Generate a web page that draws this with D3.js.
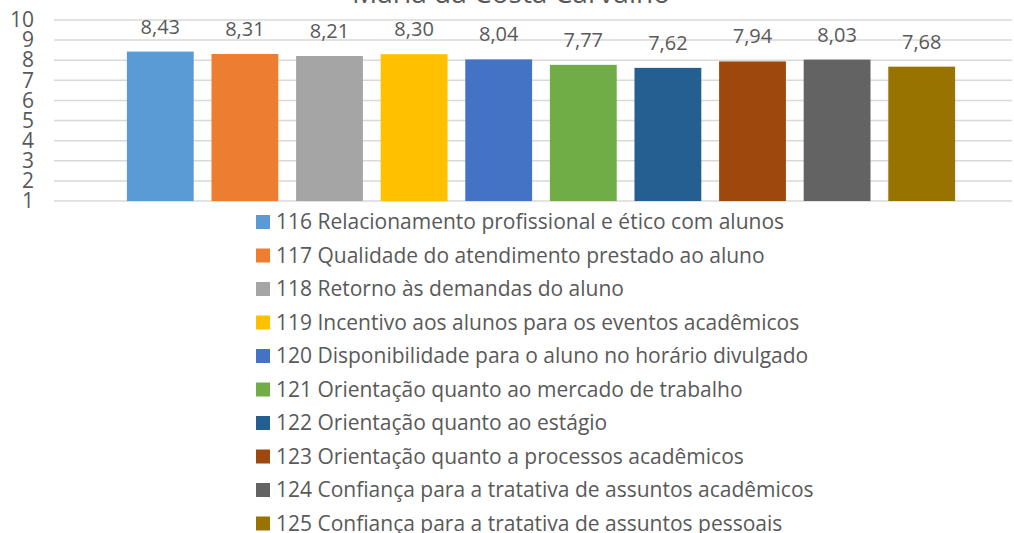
<!DOCTYPE html>
<html>
<head>
<meta charset="utf-8">
<script src="https://cdn.jsdelivr.net/npm/d3@7"></script>
<style>
  body { margin: 0; background: #fff; }
  text { font-family: "Open Sans", Lato, sans-serif; fill: #595959; }
</style>
</head>
<body>
<svg id="chart"></svg>
<script>
// data
const codes = ['116', '117', '118', '119', '120', '121', '122', '123', '124', '125'];
const labels = [
  'Relacionamento profissional e ético com alunos',
  'Qualidade do atendimento prestado ao aluno',
  'Retorno às demandas do aluno',
  'Incentivo aos alunos para os eventos acadêmicos',
  'Disponibilidade para o aluno no horário divulgado',
  'Orientação quanto ao mercado de trabalho',
  'Orientação quanto ao estágio',
  'Orientação quanto a processos acadêmicos',
  'Confiança para a tratativa de assuntos acadêmicos',
  'Confiança para a tratativa de assuntos pessoais'
];
const values = [8.43, 8.31, 8.21, 8.30, 8.04, 7.77, 7.62, 7.94, 8.03, 7.68];
const colors = ['#5B9BD5', '#ED7D31', '#A5A5A5', '#FFC000', '#4472C4',
                '#70AD47', '#255E91', '#9E480E', '#636363', '#997300'];
const yTicks = [1, 2, 3, 4, 5, 6, 7, 8, 9, 10];
const title = 'Maria da Costa Carvalho';

const width = 1014;
const height = 533;

const svg = d3.select('#chart')
  .attr('width', width)
  .attr('height', height)
  .style('display', 'block');

// scales
const xScale = d3.scaleBand()
  .domain(codes)
  .range([118, 964])
  .paddingInner(0.21)
  .paddingOuter(0.105);

const yScale = d3.scaleLinear()
  .domain([1, 10])
  .range([201, 20]);

// gridlines
svg.append('g')
  .selectAll('line')
  .data(yTicks)
  .enter()
  .append('line')
  .attr('x1', 54)
  .attr('x2', 1012)
  .attr('y1', d => yScale(d))
  .attr('y2', d => yScale(d))
  .attr('stroke', '#d9d9d9')
  .attr('stroke-width', 1.5);

// y axis
const yAxis = d3.axisLeft(yScale)
  .tickValues(yTicks)
  .tickSize(0)
  .tickPadding(0);

const yG = svg.append('g')
  .attr('transform', 'translate(34,0)')
  .call(yAxis);
yG.select('.domain').remove();
yG.selectAll('text')
  .style('font-size', '21px')
  .attr('fill', '#595959');

// bars
svg.append('g')
  .selectAll('rect')
  .data(values)
  .enter()
  .append('rect')
  .attr('x', (d, i) => xScale(codes[i]))
  .attr('y', d => yScale(d))
  .attr('width', xScale.bandwidth())
  .attr('height', d => yScale(1) - yScale(d))
  .attr('fill', (d, i) => colors[i]);

// value labels
svg.append('g')
  .selectAll('text')
  .data(values)
  .enter()
  .append('text')
  .attr('x', (d, i) => xScale(codes[i]) + xScale.bandwidth() / 2)
  .attr('y', d => yScale(d) - 18)
  .attr('text-anchor', 'middle')
  .style('font-size', '20px')
  .text(d => d.toFixed(2).replace('.', ','));

// title (cut off at the top)
svg.append('text')
  .attr('x', 511)
  .attr('y', 2.5)
  .attr('text-anchor', 'middle')
  .style('font-size', '28px')
  .text(title);

// legend
const legend = svg.append('g')
  .attr('transform', 'translate(256,222)');

const rows = legend.selectAll('g')
  .data(codes)
  .enter()
  .append('g')
  .attr('transform', (d, i) => `translate(0, ${i * 33.5})`);

rows.append('rect')
  .attr('x', 0)
  .attr('y', -7)
  .attr('width', 14)
  .attr('height', 14)
  .attr('fill', (d, i) => colors[i]);

rows.append('text')
  .attr('x', 20)
  .attr('y', 7)
  .style('font-size', '21px')
  .text((d, i) => `${d} ${labels[i]}`);
</script>
</body>
</html>
